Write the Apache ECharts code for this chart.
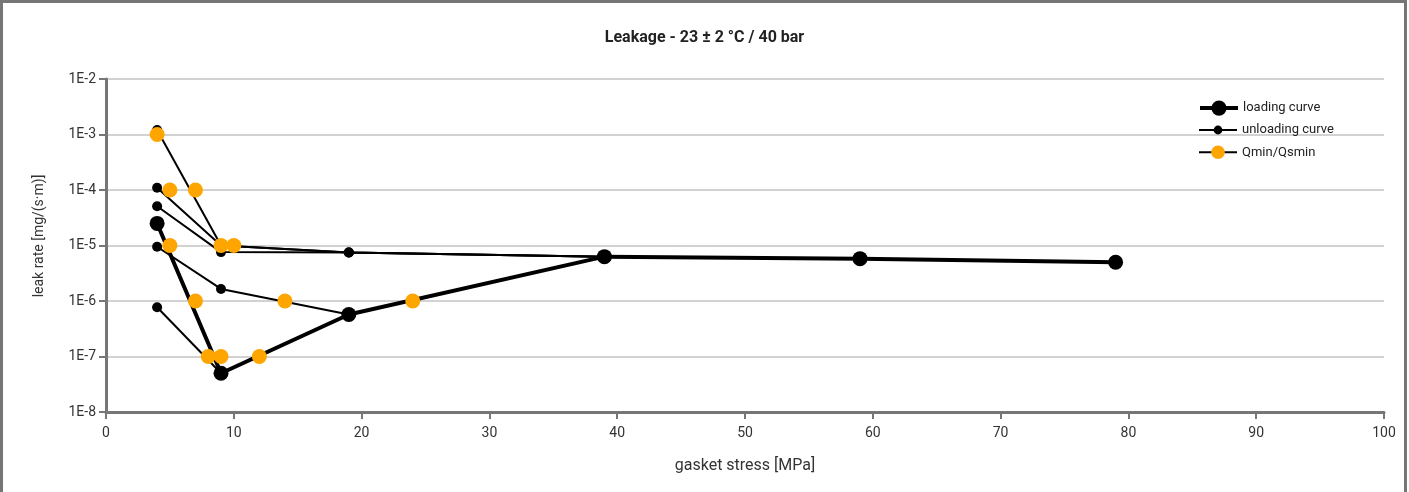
<!DOCTYPE html>
<html>
<head>
<meta charset="utf-8">
<script src="https://cdn.jsdelivr.net/npm/echarts@6/dist/echarts.min.js"></script>
<style>
    html, body { margin: 0; padding: 0; background: #fff; }
    #chart { width: 1409px; height: 492px; }
</style>
</head>
<body>
<div id="chart"></div>
<script>
// loading curve (gasket stress in MPa, leak rate in mg/(s*m))
const loadingStress = [4, 9, 19, 39, 59, 79];
const loadingLeak = [2.5e-5, 5.0e-8, 5.7e-7, 6.3e-6, 5.8e-6, 5.0e-6];

// unloading curves, one per load step
const unload9Stress = [9, 4];
const unload9Leak = [5.0e-8, 7.7e-7];
const unload19Stress = [19, 9, 4];
const unload19Leak = [5.7e-7, 1.65e-6, 9.5e-6];
const unload39Stress = [39, 19, 9, 4];
const unload39Leak = [6.3e-6, 7.5e-6, 7.6e-6, 5.1e-5];
const unload59Stress = [59, 39, 19, 9, 4];
const unload59Leak = [5.8e-6, 6.3e-6, 7.5e-6, 1.0e-5, 1.1e-4];
const unload79Stress = [79, 59, 39, 19, 9, 4];
const unload79Leak = [5.0e-6, 5.8e-6, 6.3e-6, 7.5e-6, 1.0e-5, 1.2e-3];

// Qmin / Qsmin points
const qminStress = [4, 5, 7, 5, 9, 10, 7, 14, 24, 8, 9, 12];
const qminLeak = [1e-3, 1e-4, 1e-4, 1e-5, 1e-5, 1e-5, 1e-6, 1e-6, 1e-6, 1e-7, 1e-7, 1e-7];

const xTicks = { min: 0, max: 100, step: 10 };
const yDecades = { min: 1e-8, max: 1e-2 };

const pairs = (xs, ys) => xs.map((x, i) => [x, ys[i]]);

const font = "Roboto, 'Noto Sans', sans-serif";
const axisGrey = "#767676";

const unloadingSeries = [
    [unload9Stress, unload9Leak],
    [unload19Stress, unload19Leak],
    [unload39Stress, unload39Leak],
    [unload59Stress, unload59Leak],
    [unload79Stress, unload79Leak],
].map(([xs, ys]) => ({
    type: "line",
    name: "unloading curve",
    data: pairs(xs, ys),
    symbol: "circle",
    symbolSize: 10,
    lineStyle: { color: "#000", width: 2 },
    itemStyle: { color: "#000" },
    z: 2,
}));

const legendBase = (name, top, h, lineWidth) => ({
    data: [{ name: name, lineStyle: { color: "#000", width: lineWidth, opacity: 1 } }],
    left: 1198,
    top: top,
    itemWidth: 38,
    itemHeight: h,
    padding: 0,
    textStyle: { fontFamily: font, fontSize: 13, color: "#222" },
});

const chart = echarts.init(document.getElementById("chart"));
chart.setOption({
    animation: false,
    backgroundColor: "#fff",
    textStyle: { fontFamily: font },
    title: {
        text: "Leakage - 23 \u00b1 2 \u00b0C / 40 bar",
        left: "center",
        top: 30,
        padding: 0,
        textStyle: { fontFamily: font, fontSize: 16, fontWeight: "bold", color: "#222" },
    },
    graphic: [
        {
            type: "rect",
            silent: true,
            shape: { x: 1.5, y: 1.5, width: 1404, height: 600 },
            style: { fill: "transparent", stroke: axisGrey, lineWidth: 3 },
        },
    ],
    legend: [
        legendBase("loading curve", 100.5, 19, 4),
        legendBase("unloading curve", 123.5, 11, 2),
        legendBase("Qmin/Qsmin", 145.5, 17, 2),
    ],
    grid: { left: 106, right: 25, top: 79, bottom: 80 },
    xAxis: {
        type: "value",
        min: xTicks.min,
        max: xTicks.max,
        interval: xTicks.step,
        name: "gasket stress [MPa]",
        nameLocation: "middle",
        nameGap: 46,
        nameTextStyle: { fontFamily: font, fontSize: 16, color: "#333" },
        axisLine: { show: true, lineStyle: { color: axisGrey, width: 3 } },
        axisTick: { show: true, length: 7, lineStyle: { color: axisGrey, width: 2 } },
        axisLabel: { fontFamily: font, fontSize: 14, color: "#333", margin: 14 },
        splitLine: { show: false },
    },
    yAxis: {
        type: "log",
        logBase: 10,
        min: yDecades.min,
        max: yDecades.max,
        interval: 1,
        splitNumber: 6,
        name: "leak rate [mg/(s\u00b7m)]",
        nameLocation: "middle",
        nameGap: 60,
        nameTextStyle: { fontFamily: font, fontSize: 14, color: "#333", padding: [0, 0, 0, 19] },
        axisLine: { show: true, lineStyle: { color: axisGrey, width: 3 } },
        axisTick: { show: true, length: 7, lineStyle: { color: axisGrey, width: 2 } },
        axisLabel: {
            fontFamily: font,
            fontSize: 14,
            color: "#333",
            margin: 10,
            formatter: (v) => "1E" + Math.round(Math.log10(v)),
        },
        splitLine: { show: true, lineStyle: { color: "#d2d2d2", width: 2 } },
    },
    series: [
        ...unloadingSeries,
        {
            type: "line",
            name: "loading curve",
            data: pairs(loadingStress, loadingLeak),
            symbol: "circle",
            symbolSize: 15,
            lineStyle: { color: "#000", width: 4 },
            itemStyle: { color: "#000" },
            z: 3,
        },
        {
            type: "line",
            name: "Qmin/Qsmin",
            data: pairs(qminStress, qminLeak),
            symbol: "circle",
            symbolSize: 15,
            lineStyle: { color: "#000", width: 0, opacity: 0 },
            itemStyle: { color: "#ffa500" },
            z: 4,
        },
    ],
});
</script>
</body>
</html>
